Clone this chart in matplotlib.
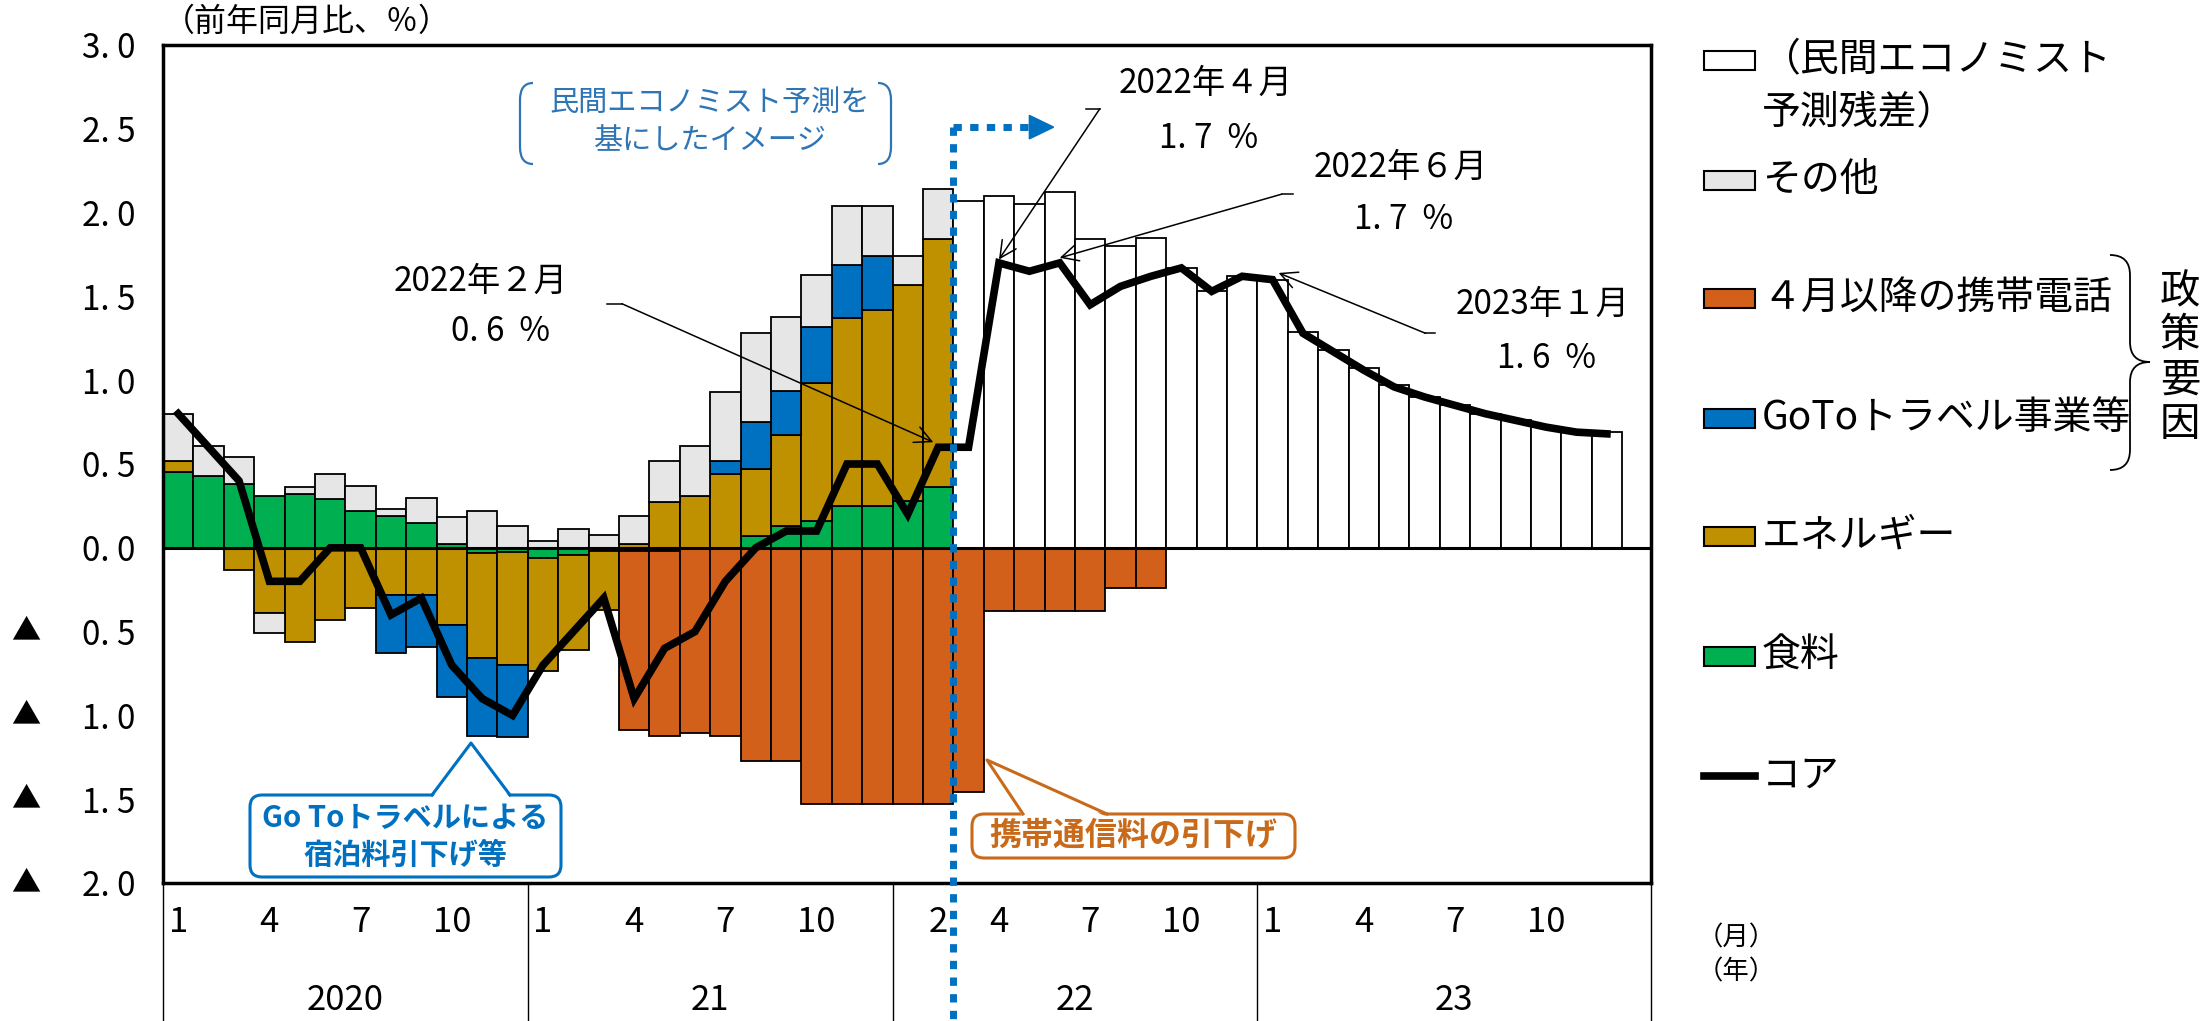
import matplotlib
matplotlib.use("Agg")
import numpy as np
import matplotlib.pyplot as plt
from matplotlib.patches import FancyBboxPatch, Polygon, PathPatch, Rectangle
from matplotlib.path import Path
from matplotlib.lines import Line2D
from matplotlib.transforms import Affine2D, blended_transform_factory as blend

# contributions to core CPI (y/y, %pt), monthly Jan 2020 - Dec 2023
food = [0.45, 0.43, 0.38, 0.31, 0.32, 0.29, 0.22, 0.19, 0.15, 0.02, -0.03, -0.025,
        -0.06, -0.04, -0.02, -0.02, -0.02, -0.01, 0.0, 0.07, 0.13, 0.16, 0.25, 0.25,
        0.28, 0.36] + [0.0] * 22
energy = [0.07, -0.01, -0.13, -0.39, -0.56, -0.43, -0.36, -0.28, -0.28, -0.46, -0.63, -0.675,
          -0.675, -0.57, -0.35, 0.025, 0.275, 0.31, 0.44, 0.40, 0.545, 0.825, 1.12, 1.17,
          1.29, 1.48] + [0.0] * 22
goto = [0.0] * 7 + [-0.35, -0.31, -0.43, -0.46, -0.43] + [0.0] * 6 + \
       [0.08, 0.28, 0.26, 0.33, 0.32, 0.32] + [0.0] * 24
mobile = [0.0] * 15 + [-1.07, -1.10, -1.095, -1.125, -1.27, -1.27, -1.53, -1.53, -1.53,
                       -1.53, -1.53, -1.46, -0.38, -0.38, -0.38, -0.38, -0.24, -0.24] + [0.0] * 15
other = [0.28, 0.18, 0.16, -0.12, 0.04, 0.15, 0.15, 0.04, 0.15, 0.165, 0.22, 0.13,
         0.04, 0.11, 0.075, 0.165, 0.245, 0.30, 0.41, 0.53, 0.44, 0.31, 0.35, 0.30,
         0.17, 0.30] + [0.0] * 22
residual = [0.0] * 26 + [2.07, 2.10, 2.05, 2.12, 1.84, 1.80, 1.85, 1.67, 1.53, 1.62,
                         1.60, 1.29, 1.18, 1.07, 0.97, 0.90, 0.85, 0.80, 0.76, 0.72, 0.69, 0.69]
core = [0.8, 0.6, 0.4, -0.2, -0.2, 0.0, 0.0, -0.4, -0.3, -0.7, -0.9, -1.0,
        -0.7, -0.5, -0.3, -0.9, -0.6, -0.5, -0.2, 0.0, 0.1, 0.1, 0.5, 0.5,
        0.2, 0.6, 0.6, 1.7, 1.65, 1.7, 1.45, 1.56, 1.62, 1.67, 1.53, 1.62,
        1.6, 1.28, 1.17, 1.06, 0.96, 0.90, 0.85, 0.80, 0.76, 0.72, 0.69, 0.68]

years = [2020, 2021, 2022, 2023]
year_labels = ["2020", "21", "22", "23"]
tick_pos = [0, 3, 6, 9, 12, 15, 18, 21, 25, 27, 30, 33, 36, 39, 42, 45]
tick_labels = ["1", "4", "7", "10", "1", "4", "7", "10", "2", "4", "7", "10", "1", "4", "7", "10"]
marked = [25, 27, 29, 36]          # months picked out with a leader line

layers = [
    (food, "#00B050", "食料"),
    (energy, "#BF9000", "エネルギー"),
    (goto, "#0070C0", "GoToトラベル事業等"),
    (mobile, "#D2601A", "４月以降の携帯電話"),
    (other, "#E6E6E6", "その他"),
    (residual, "white", "（民間エコノミスト\n予測残差）"),
]

plt.rcParams["font.family"] = ["Noto Sans CJK JP", "DejaVu Sans"]

W, H = 2208, 1021
fig = plt.figure(figsize=(W / 100, H / 100), dpi=100)
# pixel coordinates measured from the top-left corner
px = Affine2D().scale(0.01, -0.01).translate(0, H / 100) + fig.dpi_scale_trans

ax = fig.add_axes([163 / W, 1 - 883 / H, (1651 - 163) / W, (883 - 45) / H])
n = len(core)
x = np.arange(n)

pos = np.zeros(n)
neg = np.zeros(n)
for vals, color, _ in layers:
    v = np.array(vals, float)
    bottom = np.where(v >= 0, pos, neg)
    m = v != 0
    ax.bar(x[m], v[m], width=1.0, bottom=bottom[m], color=color,
           edgecolor="black", linewidth=1.3, zorder=2)
    pos += np.clip(v, 0, None)
    neg += np.clip(v, None, 0)

ax.axhline(0, color="black", lw=2.2, zorder=3)
ax.plot(x, core, color="black", lw=5.5, zorder=5, solid_joinstyle="miter")

ax.set_xlim(-0.5, 48.45)
ax.set_ylim(-2, 3)
for s in ax.spines.values():
    s.set_linewidth(2.5)

yt = np.arange(-2, 3.01, 0.5)
ax.set_yticks(yt, [f"{abs(v):.1f}".replace(".", ". ") for v in yt])
ax.tick_params(axis="y", length=0, pad=20, labelsize=24)
for v in yt[yt < 0]:
    ax.text(26, v, "▲", transform=blend(px, ax.transData), ha="center", va="center", fontsize=21)

ax.set_xticks(tick_pos, tick_labels)
ax.tick_params(axis="x", length=0, pad=16, labelsize=25)

# year blocks under the month labels
edges = [-0.5, 11.5, 23.5, 35.5, 48.45]
bt = blend(ax.transData, px)
for e in edges:
    ax.plot([e, e], [883, 1021], transform=bt, color="black", lw=1.0, clip_on=False)
for i, lab in enumerate(year_labels):
    ax.text((edges[i] + edges[i + 1]) / 2, 1000, lab, transform=bt,
            ha="center", va="center", fontsize=25)
fig.text(1736 / W, 1 - 938 / H, "（月）", ha="center", va="center", fontsize=19)
fig.text(1736 / W, 1 - 972 / H, "（年）", ha="center", va="center", fontsize=19)
fig.text(163 / W, 1 - 22 / H, "（前年同月比、％）", ha="left", va="center", fontsize=23)

# forecast boundary: dotted line and arrow
blue = "#0070C0"
ax.plot([25.5, 25.5], [2.51, -2.85], color=blue, lw=5, ls=(0, (1.2, 1.2)),
        clip_on=False, zorder=6)
ax.plot([25.5, 28.0], [2.51, 2.51], color=blue, lw=5, ls=(0, (1.2, 1.2)), zorder=6)
ax.fill([28.0, 28.8, 28.0], [2.58, 2.51, 2.44], color=blue, zorder=6)

lb = "#2E75B6"
ax.text(710, 103, "民間エコノミスト予測を", transform=px, ha="center", va="center",
        fontsize=21, color=lb)
ax.text(710, 141, "基にしたイメージ", transform=px, ha="center", va="center",
        fontsize=21, color=lb)
Q, L, M = Path.CURVE3, Path.LINETO, Path.MOVETO
for x0, x1 in [(533, 520), (878, 891)]:
    br = Path([(x0, 83), (x1, 83), (x1, 100), (x1, 147), (x1, 164), (x0, 164)],
              [M, Q, Q, L, Q, Q])
    fig.add_artist(PathPatch(br, transform=px, fill=False, edgecolor=lb, lw=1.6))

# leader-line labels on the core line
zen = str.maketrans("0123456789", "０１２３４５６７８９")
note_pos = {
    25: ((9.95, 1.59), (10.6, 1.29), (14.1, 14.6, 1.456), (-0.16, 0.03)),
    27: ((33.8, 2.77), (33.9, 2.44), (29.86, 30.32, 2.62), (0.0, 0.02)),
    29: ((40.2, 2.27), (40.3, 1.96), (36.66, 36.3, 2.11), (0.0, 0.03)),
    36: ((44.9, 1.45), (45.0, 1.13), (41.36, 41.03, 1.28), (0.2, 0.04)),
}
for i in marked:
    (t1, t2, (sa, sb, sy), (dx, dy)) = note_pos[i]
    yr, mo = years[i // 12], i % 12 + 1
    ax.text(*t1, f"{yr}年{str(mo).translate(zen)}月", ha="center", va="center", fontsize=24)
    ax.text(*t2, f"{core[i]:.1f}".replace(".", ". ") + "  %", ha="center", va="center",
            fontsize=24)
    ax.plot([sa, sb], [sy, sy], color="black", lw=1.1, zorder=7)
    ax.annotate("", xy=(i + dx, core[i] + dy), xytext=(sb, sy),
                arrowprops=dict(arrowstyle="->", color="black", lw=1.1,
                                mutation_scale=30, shrinkA=0, shrinkB=0), zorder=7)


def bubble(x0, y0, w, h, tri, color, lines, size):
    box = FancyBboxPatch((x0, y0), w, h, boxstyle="round,pad=0,rounding_size=12",
                         transform=px, facecolor="white", edgecolor=color, lw=2.2, zorder=8)
    fig.add_artist(box)
    (ax0, ay0), (tx, ty), (bx0, by0) = tri
    fig.add_artist(Polygon([(ax0, ay0 + 3), (tx, ty), (bx0, by0 + 3)], transform=px,
                           facecolor="white", edgecolor="none", zorder=9))
    fig.add_artist(Line2D([ax0, tx, bx0], [ay0, ty, by0], transform=px, color=color,
                          lw=2.2, zorder=10))
    for (lx, ly, s) in lines:
        fig.text(lx / W, 1 - ly / H, s, ha="center", va="center", fontsize=size,
                 color=color, fontweight="bold", zorder=11)


bubble(250, 795, 311, 82, [(432, 795), (471, 743), (510, 795)], blue,
       [(405, 818, "Go Toトラベルによる"), (405, 855, "宿泊料引下げ等")], 21)
bubble(972, 814, 323, 44, [(1023, 814), (987, 760), (1107, 814)], "#C96A1B",
       [(1133, 836, "携帯通信料の引下げ")], 23)

# legend
rows = [60, 180, 298, 418, 536, 656]
for (vals, color, label), ry in zip(layers[::-1], rows):
    fig.add_artist(Rectangle((1704, ry - 9), 51, 19, transform=px, facecolor=color,
                             edgecolor="black", lw=1.5))
    for k, part in enumerate(label.split("\n")):
        fig.text(1762 / W, 1 - (ry + 53 * k) / H, part, ha="left", va="center", fontsize=28)
fig.add_artist(Line2D([1704, 1755], [776, 776], transform=px, color="black", lw=5.5))
fig.text(1762 / W, 1 - 776 / H, "コア", ha="left", va="center", fontsize=28)

brace = Path([(2110, 255), (2130, 255), (2130, 275), (2130, 342), (2130, 362), (2150, 362),
              (2130, 362), (2130, 382), (2130, 450), (2130, 470), (2110, 470)],
             [M, Q, Q, L, Q, Q, Q, Q, L, Q, Q])
fig.add_artist(PathPatch(brace, transform=px, fill=False, edgecolor="black", lw=1.3))
fig.text(2180 / W, 1 - 358 / H, "政\n策\n要\n因", ha="center", va="center",
         fontsize=29, linespacing=1.1)

fig.savefig("out.png", dpi=100, facecolor="white")
